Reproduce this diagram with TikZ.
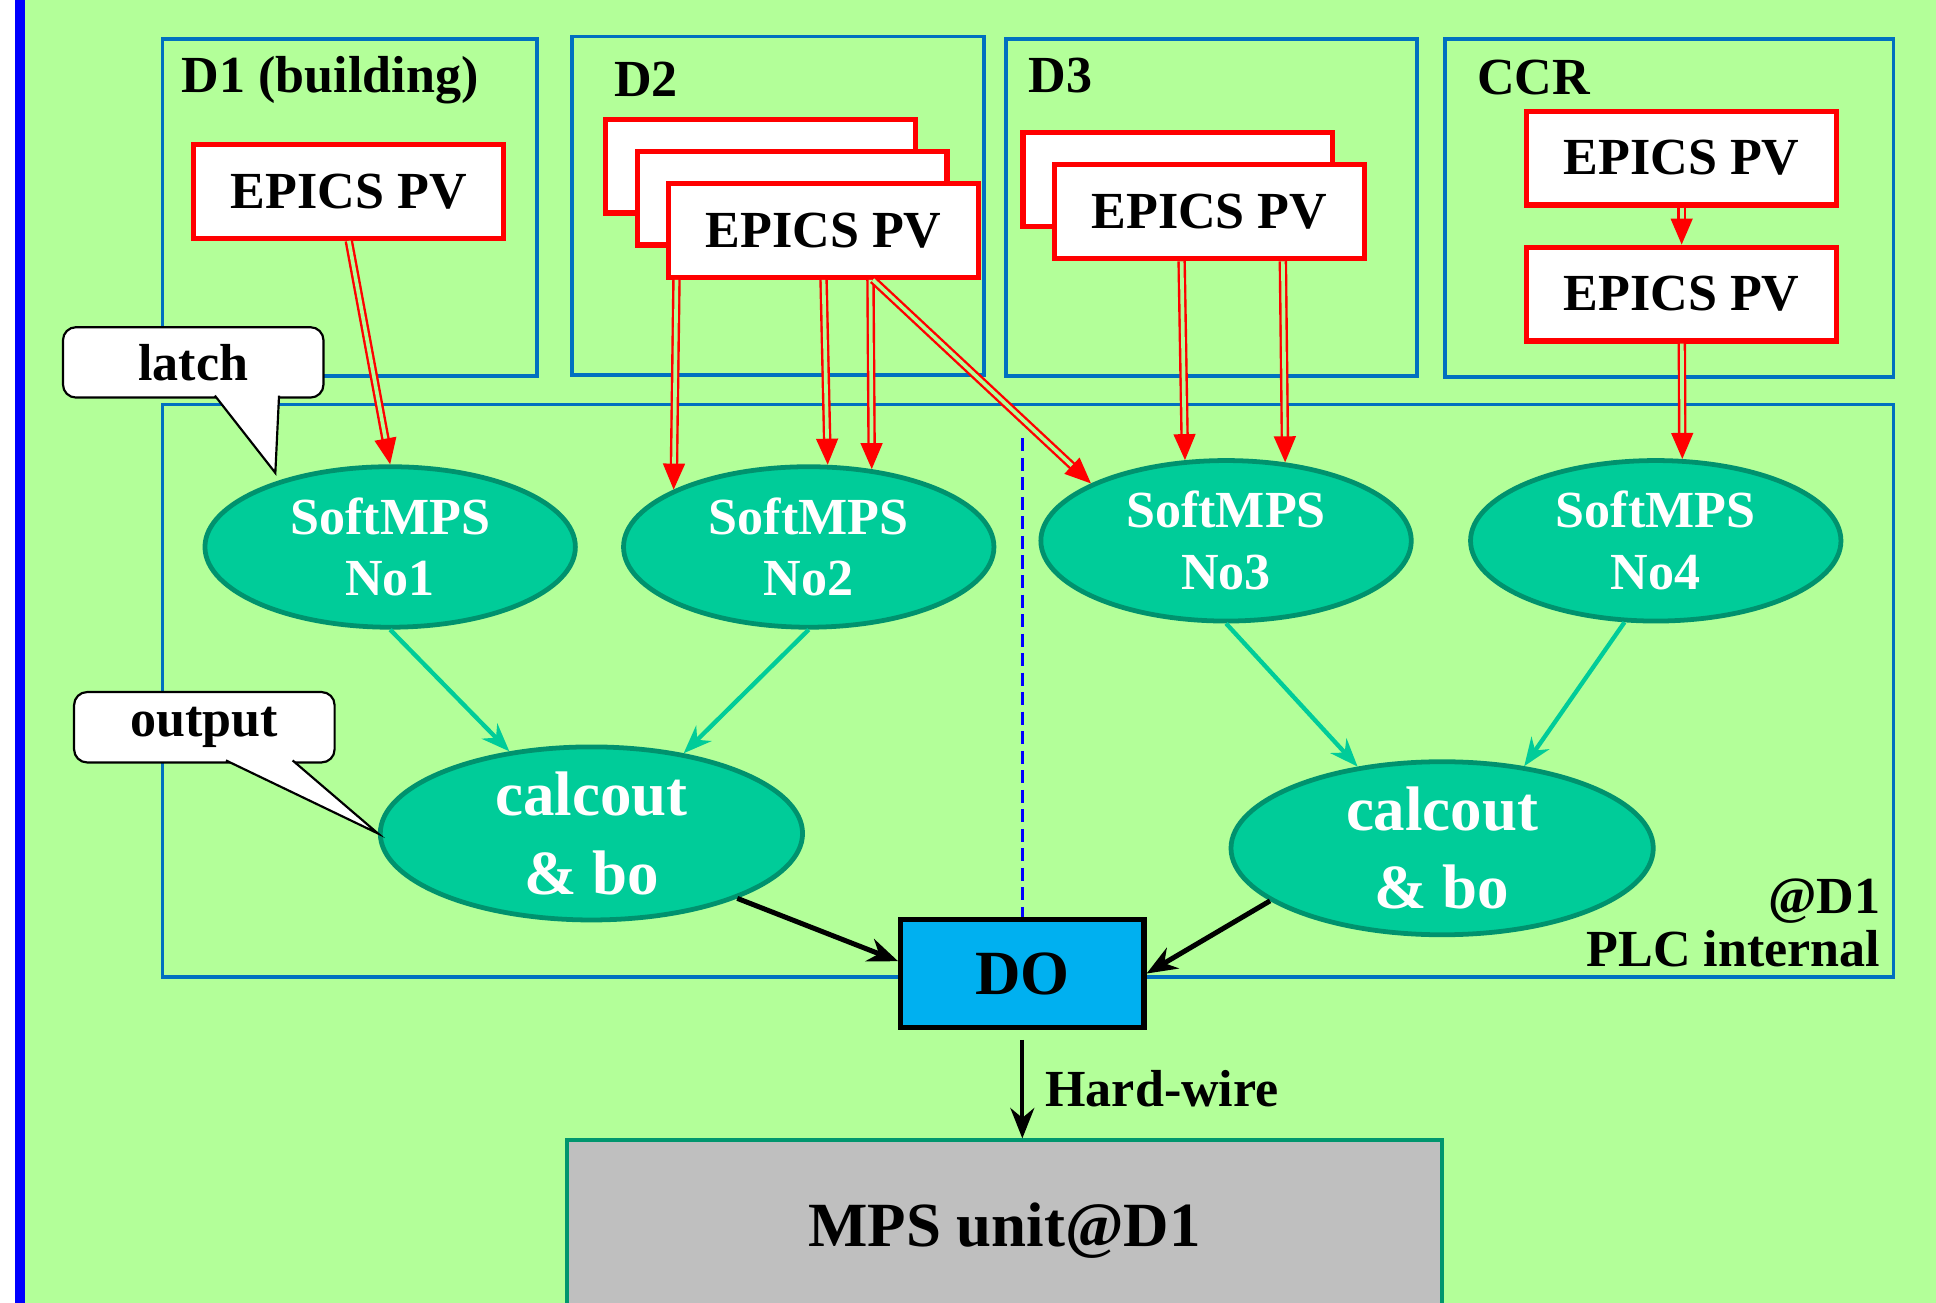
\documentclass[tikz,border=0pt]{standalone}
\usepackage{fontspec}
\setmainfont{Liberation Serif}
\usetikzlibrary{shapes, arrows.meta, positioning}

\definecolor{bggreen}{RGB}{179,255,153}
\definecolor{zoneblue}{RGB}{0,112,192}
\definecolor{barblue}{RGB}{0,0,255}
\definecolor{mpsfill}{RGB}{0,204,153}
\definecolor{mpsedge}{RGB}{0,146,110}
\definecolor{dofill}{RGB}{0,176,240}
\definecolor{unitgray}{RGB}{191,191,191}
\definecolor{unitedge}{RGB}{0,150,110}

\newcommand{\labelfont}{\fontsize{24}{26}\selectfont\bfseries}
\newcommand{\largefont}{\fontsize{29}{36}\selectfont\bfseries}

\tikzset{
  zone/.style={draw=zoneblue, line width=1.8pt, anchor=north west, inner sep=0pt},
  zonelabel/.style={font=\labelfont, inner sep=0pt, anchor=west},
  pvbox/.style={draw=red, fill=white, line width=2.4pt, minimum width=5.02cm, minimum height=1.52cm, font=\labelfont},
  mpsnode/.style={ellipse, draw=mpsedge, fill=mpsfill, line width=2.2pt, text=white, align=center, inner sep=0pt, minimum width=6cm, minimum height=2.6cm, font=\fontsize{24}{28.5}\selectfont\bfseries},
  calcnode/.style={mpsnode, minimum width=6.84cm, minimum height=2.8cm, font=\largefont},
  donode/.style={draw=black, fill=dofill, line width=2.4pt, minimum width=3.94cm, minimum height=1.74cm, font=\largefont},
  unitnode/.style={draw=unitedge, fill=unitgray, line width=1.8pt, minimum width=14.18cm, minimum height=2.92cm, font=\largefont},
  notebox/.style={draw=black, fill=white, line width=1pt, rounded corners=6pt, minimum width=4.22cm, minimum height=1.14cm, font=\labelfont},
  notetail/.style={draw=black, fill=white, line width=1pt},
  pvlink/.style={draw=red, double=bggreen, double distance=1.7pt, line width=1.1pt, -{Triangle[length=12pt, width=10pt]}},
  mpslink/.style={draw=mpsfill, line width=2pt, -{Stealth[length=13pt, width=10pt]}},
  outlink/.style={draw=black, line width=2.3pt, -{Stealth[length=14pt, width=11pt]}},
  divider/.style={draw=barblue, line width=1.6pt, dash pattern=on 6pt off 3pt}
}

\begin{document}
\begin{tikzpicture}

% page with the blue bar on the left
\useasboundingbox (0,0) rectangle (31.36,-21.1);
\fill[white] (0,0) rectangle (0.4,-21.1);
\fill[bggreen] (0.4,0) rectangle (31.36,-21.1);
\fill[barblue] (0.24,0) rectangle (0.40,-21.1);

% Zones
\node[zone, minimum width=6.06cm, minimum height=5.46cm] (D1) at (2.60,-0.60) {};
\node[zone, minimum width=6.66cm, minimum height=5.48cm] (D2) at (9.24,-0.56) {};
\node[zone, minimum width=6.66cm, minimum height=5.46cm] (D3) at (16.26,-0.60) {};
\node[zone, minimum width=7.26cm, minimum height=5.48cm] (CCR) at (23.38,-0.60) {};
\node[zone, minimum width=28.04cm, minimum height=9.28cm] (PLC) at (2.60,-6.52) {};

\node[zonelabel] (D1name) at ([shift={(0.34,-0.70)}]D1.north west) {D1 (building)};
\node[zonelabel] (D2name) at ([shift={(0.70,-0.72)}]D2.north west) {D2};
\node[zonelabel] (D3name) at ([shift={(0.40,-0.62)}]D3.north west) {D3};
\node[zonelabel] (CCRname) at ([shift={(0.54,-0.66)}]CCR.north west) {CCR};
\node[font=\fontsize{24}{24}\selectfont\bfseries, align=right, inner sep=0pt, anchor=south east] (PLCname) at ([shift={(-0.24,0.20)}]PLC.south east) {@D1\\PLC internal};

% EPICS PVs
\node[pvbox] (pv1) at (5.65,-3.10) {EPICS PV};
\node[pvbox] (pv2back) at (12.32,-2.69) {};
\node[pvbox] (pv2mid) at ([shift={(0.51,-0.52)}]pv2back.center) {};
\node[pvbox] (pv2) at ([shift={(0.51,-0.52)}]pv2mid.center) {EPICS PV};
\node[pvbox] (pv3back) at (19.08,-2.91) {};
\node[pvbox] (pv3) at ([shift={(0.51,-0.52)}]pv3back.center) {EPICS PV};
\node[pvbox] (pvc1) at (27.24,-2.56) {EPICS PV};
\node[pvbox, below=0.6cm of pvc1] (pvc2) {EPICS PV};

% PLC records
\node[mpsnode] (sm1) at (6.32,-8.86) {SoftMPS\\No1};
\node[mpsnode] (sm2) at (13.10,-8.86) {SoftMPS\\No2};
\node[mpsnode] (sm3) at (19.86,-8.76) {SoftMPS\\No3};
\node[mpsnode] (sm4) at (26.82,-8.76) {SoftMPS\\No4};
\node[calcnode] (calcL) at (9.58,-13.50) {calcout\\\& bo};
\node[calcnode] (calcR) at (23.36,-13.74) {calcout\\\& bo};

\coordinate (divtop) at (16.56,-7.10);
\draw[divider] (divtop) -- (16.56,-14.9);
\node[donode] (DO) at (16.56,-15.77) {DO};
\node[unitnode, anchor=north] (unit) at (16.27,-18.44) {MPS unit@D1};

% Edges
\draw[pvlink] (pv1.south) -- (sm1.north);
\draw[pvlink] ([xshift=0.17cm]pv2.south west) -- (sm2.157);
\draw[pvlink] (pv2.south) -- (sm2.77);
\draw[pvlink] ([xshift=0.76cm]pv2.south) -- (sm2.51);
\draw[pvlink] ([xshift=0.80cm]pv2.south) -- (sm3.157);
\draw[pvlink] ([xshift=-0.45cm]pv3.south) -- (sm3.117);
\draw[pvlink] ([xshift=1.19cm]pv3.south) -- (sm3.53);
\draw[pvlink] (pvc1) -- (pvc2);
\draw[pvlink] (pvc2) -- (sm4.72);

\draw[mpslink] (sm1.south) -- (calcL.135);
\draw[mpslink] (sm2.south) -- (calcL.41);
\draw[mpslink] (sm3.south) -- (calcR.136);
\draw[mpslink] (sm4.249) -- (calcR.45);

\draw[outlink] (calcL.336) -- ([yshift=0.2cm]DO.west);
\draw[outlink] (calcR.197) -- (DO.east);
\draw[outlink, line width=1.9pt] ([yshift=-0.16cm]DO.south) -- (DO.south |- unit.north)
  node[midway, right=0.34cm, inner sep=0pt, font=\labelfont] (hw) {Hard-wire};

% Callouts
\node[notebox] (latch) at (3.13,-5.87) {latch};
\coordinate (latchtip) at (4.46,-7.66);
\filldraw[notetail] ([xshift=0.35cm, yshift=0.05cm]latch.south) -- (latchtip) -- ([xshift=1.39cm, yshift=0.05cm]latch.south);
\node[notebox] (output) at (3.31,-11.78) {output};
\filldraw[notetail] ([xshift=0.35cm, yshift=0.05cm]output.south) -- (calcL.west) -- ([xshift=1.43cm, yshift=0.05cm]output.south);

\end{tikzpicture}
\end{document}
